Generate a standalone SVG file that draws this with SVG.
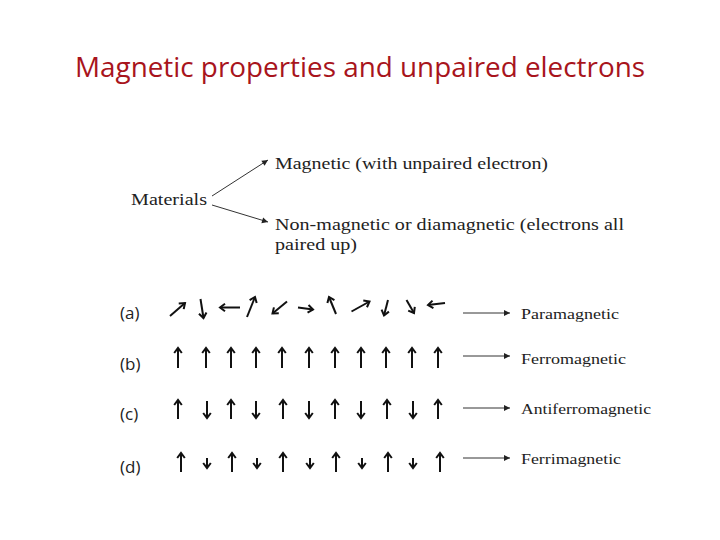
<svg xmlns="http://www.w3.org/2000/svg" width="720" height="540" viewBox="0 0 720 540">
<defs>
<marker id="vh" viewBox="-6 -5 8 10" refX="0" refY="0" markerWidth="8" markerHeight="10" markerUnits="userSpaceOnUse" orient="auto" overflow="visible">
<path d="M-5,-3.8 L0,0 L-5,3.8" fill="none" stroke="#111" stroke-width="2" stroke-linejoin="miter"/>
</marker>
<marker id="fh" viewBox="-6 -4 7 8" refX="0" refY="0" markerWidth="7" markerHeight="8" markerUnits="userSpaceOnUse" orient="auto" overflow="visible">
<path d="M-6,-3 L0,0 L-6,3 Z" fill="#222"/>
</marker>
<style>
.title{font-family:"Open Sans","Liberation Sans",sans-serif;font-size:28px;fill:#a8141c}
.ser{font-family:"Liberation Serif","DejaVu Serif",serif;fill:#222}
.lab{font-family:"Open Sans","Liberation Sans",sans-serif;font-size:17px;fill:#222}
.sp{fill:none;stroke:#111;stroke-width:2;marker-end:url(#vh)}
.con{fill:none;stroke:#333;stroke-width:1;marker-end:url(#fh)}
</style>
</defs>
<rect width="720" height="540" fill="#fff"/>
<text class="title" x="75" y="77" textLength="570" lengthAdjust="spacingAndGlyphs">Magnetic properties and unpaired electrons</text>

<g id="materials"><text class="ser" x="131" y="205" font-size="16" textLength="76" lengthAdjust="spacingAndGlyphs">Materials</text></g>
<g id="magnetic"><text class="ser" x="275" y="169" font-size="16" textLength="273" lengthAdjust="spacingAndGlyphs">Magnetic (with unpaired electron)</text></g>
<g id="nonmagnetic"><text class="ser" x="275" y="230" font-size="16" textLength="349" lengthAdjust="spacingAndGlyphs">Non-magnetic or diamagnetic (electrons all</text><text class="ser" x="275" y="250" font-size="16" textLength="82" lengthAdjust="spacingAndGlyphs">paired up)</text></g>

<g id="row-a-label"><text class="lab" x="120" y="319">(a)</text></g>
<g id="row-b-label"><text class="lab" x="120" y="370">(b)</text></g>
<g id="row-c-label"><text class="lab" x="120" y="420">(c)</text></g>
<g id="row-d-label"><text class="lab" x="120" y="473">(d)</text></g>

<g id="paramagnetic"><text class="ser" x="521" y="319" font-size="14" textLength="98" lengthAdjust="spacingAndGlyphs">Paramagnetic</text></g>
<g id="ferromagnetic"><text class="ser" x="521" y="364" font-size="14" textLength="105" lengthAdjust="spacingAndGlyphs">Ferromagnetic</text></g>
<g id="antiferromagnetic"><text class="ser" x="521" y="414" font-size="14" textLength="130" lengthAdjust="spacingAndGlyphs">Antiferromagnetic</text></g>
<g id="ferrimagnetic"><text class="ser" x="521" y="464" font-size="14" textLength="100" lengthAdjust="spacingAndGlyphs">Ferrimagnetic</text></g>

<g id="spins-a">
<path class="sp" d="M170,316 L185,303"/>
<path class="sp" d="M200.5,299 L203.5,318"/>
<path class="sp" d="M240,307.5 L220,307.5"/>
<path class="sp" d="M247,317 L255,297"/>
<path class="sp" d="M287,301.5 L272.5,313.5"/>
<path class="sp" d="M298,307.5 L313,309.5"/>
<path class="sp" d="M336,314 L329,297"/>
<path class="sp" d="M351.5,311.5 L369.5,301.5"/>
<path class="sp" d="M388,300 L384,315.5"/>
<path class="sp" d="M406.5,300 L414,313"/>
<path class="sp" d="M445,303 L428,305"/>
</g>
<g id="spins-b">
<path class="sp" d="M178,368 V348"/>
<path class="sp" d="M206,368 V348"/>
<path class="sp" d="M231,368 V348"/>
<path class="sp" d="M256,368 V348"/>
<path class="sp" d="M282,368 V348"/>
<path class="sp" d="M309,368 V348"/>
<path class="sp" d="M335,368 V348"/>
<path class="sp" d="M361,368 V348"/>
<path class="sp" d="M386,368 V348"/>
<path class="sp" d="M412,368 V348"/>
<path class="sp" d="M438,368 V348"/>
</g>
<g id="spins-c">
<path class="sp" d="M178,419 V400"/>
<path class="sp" d="M207,401 V418"/>
<path class="sp" d="M231,419 V400"/>
<path class="sp" d="M256,401 V418"/>
<path class="sp" d="M283,419 V400"/>
<path class="sp" d="M309,401 V418"/>
<path class="sp" d="M335,419 V400"/>
<path class="sp" d="M361,401 V418"/>
<path class="sp" d="M387,419 V400"/>
<path class="sp" d="M413,401 V418"/>
<path class="sp" d="M438,419 V400"/>
</g>
<g id="spins-d">
<path class="sp" d="M181,472 V453"/>
<path class="sp" d="M207,458 V468"/>
<path class="sp" d="M232,472 V453"/>
<path class="sp" d="M257,458 V468"/>
<path class="sp" d="M283,472 V453"/>
<path class="sp" d="M310,458 V468"/>
<path class="sp" d="M336,472 V453"/>
<path class="sp" d="M362,458 V468"/>
<path class="sp" d="M388,472 V453"/>
<path class="sp" d="M413,458 V468"/>
<path class="sp" d="M440,472 V453"/>
</g>

<g id="connectors">
<path class="con" d="M212,196 L268,160"/>
<path class="con" d="M212,205 L268,222"/>
<path class="con" d="M463,313 L510,313"/>
<path class="con" d="M463,356 L510,356"/>
<path class="con" d="M463,408 L510,408"/>
<path class="con" d="M463,458 L510,458"/>
</g>
</svg>
